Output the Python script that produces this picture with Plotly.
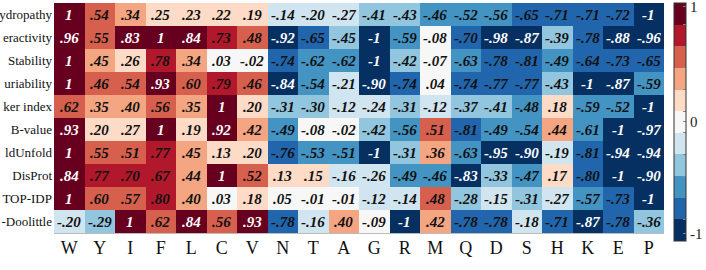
import plotly.graph_objects as go

columns = ["W", "Y", "I", "F", "L", "C", "V", "N", "T", "A", "G", "R", "M", "Q", "D", "S", "H", "K", "E", "P"]
# row labels as visible in the reference (cropped at the left edge there)
rows = ["ydropathy", "eractivity", "Stability", "uriability", "ker index",
        "B-value", "ldUnfold", "DisProt", "TOP-IDP", "-Doolittle"]

hydropathy = [1, .54, .34, .25, .23, .22, .19, -.14, -.20, -.27, -.41, -.43, -.46, -.52, -.56, -.65, -.71, -.71, -.72, -1]
interactivity = [.96, .55, .83, 1, .84, .73, .48, -.92, -.65, -.45, -1, -.59, -.08, -.70, -.98, -.87, -.39, -.78, -.88, -.96]
stability = [1, .45, .26, .78, .34, .03, -.02, -.74, -.62, -.62, -1, -.42, -.07, -.63, -.78, -.81, -.49, -.64, -.73, -.65]
curiability = [1, .46, .54, .93, .60, .79, .46, -.84, -.54, -.21, -.90, -.74, .04, -.74, -.77, -.77, -.43, -1, -.87, -.59]
marker_index = [.62, .35, .40, .56, .35, 1, .20, -.31, -.30, -.12, -.24, -.31, -.12, -.37, -.41, -.48, .18, -.59, -.52, -1]
b_value = [.93, .20, .27, 1, .19, .92, .42, -.49, -.08, -.02, -.42, -.56, .51, -.81, -.49, -.54, .44, -.61, -1, -.97]
foldunfold = [1, .55, .51, .77, .45, .13, .20, -.76, -.53, -.51, -1, -.31, .36, -.63, -.95, -.90, -.19, -.81, -.94, -.94]
disprot = [.84, .77, .70, .67, .44, 1, .52, .13, .15, -.16, -.26, -.49, -.46, -.83, -.33, -.47, .17, -.80, -1, -.90]
top_idp = [1, .60, .57, .80, .40, .03, .18, .05, -.01, -.01, -.12, -.14, .48, -.28, -.15, -.31, -.27, -.57, -.73, -1]
doolittle = [-.20, -.29, 1, .62, .84, .56, .93, -.78, -.16, .40, -.09, -1, .42, -.78, -.78, -.18, -.71, -.87, -.78, -.36]

z = [hydropathy, interactivity, stability, curiability, marker_index,
     b_value, foldunfold, disprot, top_idp, doolittle]

palette = ["#053061", "#2166ac", "#4393c3", "#92c5de", "#d1e5f0", "#f7f7f7",
           "#fddbc7", "#f4a582", "#d6604d", "#b2182b", "#67001f"]
n = len(palette)
colorscale = []
for i, c in enumerate(palette):
    colorscale.append([i / n, c])
    colorscale.append([(i + 1) / n, c])

FONT = "Times New Roman, Liberation Serif, serif"


def fmt(v):
    if abs(v) >= 0.995:
        return "1" if v > 0 else "-1"
    s = f"{abs(v):.2f}".lstrip("0")
    return ("-" if v < 0 else "") + s


# colorbar: labelled ticks at -1, 0, 1 plus unlabelled marks on the bin boundaries
cb_label_vals = [-0.94, 0, 0.97]
cb_label_text = ["-1", "0", "1"]
cb_bounds = [-1 + 2 * k / n for k in range(1, n)]
cb_vals = cb_label_vals + cb_bounds
cb_text = cb_label_text + [""] * len(cb_bounds)

fig = go.Figure(go.Heatmap(
    z=z, x=columns, y=rows,
    zmin=-1, zmax=1,
    colorscale=colorscale,
    xgap=0, ygap=0,
    hoverinfo="skip",
    colorbar=dict(
        thickness=12, lenmode="pixels", len=238,
        x=1.017, xanchor="left", xref="paper",
        y=0.483, yanchor="middle", ypad=0, xpad=0,
        outlinewidth=1, outlinecolor="#333",
        tickmode="array", tickvals=cb_vals, ticktext=cb_text,
        ticks="inside", ticklen=3, tickcolor="#888", tickwidth=1,
        ticklabeloverflow="allow",
        tickfont=dict(family=FONT, size=15, color="#222"),
    ),
))

annotations = []
for r, row in zip(rows, z):
    for c, v in zip(columns, row):
        annotations.append(dict(
            x=c, y=r, xref="x", yref="y", text=fmt(v), showarrow=False,
            font=dict(family=FONT, size=15, style="italic", weight="bold",
                      color="white" if abs(v) > 9 / 11 else "#111"),
        ))

fig.update_layout(
    width=706, height=270,
    margin=dict(l=54, r=42, t=3, b=36.5, autoexpand=False),
    paper_bgcolor="white", plot_bgcolor="white",
    annotations=annotations,
    font=dict(family=FONT, color="#111"),
)
fig.update_xaxes(tickfont=dict(size=18, family=FONT), ticks="", showgrid=False, automargin=False,
                 showline=True, linecolor="#bbb", linewidth=1, ticklabelstandoff=-2)
fig.update_yaxes(autorange="reversed", tickfont=dict(size=13, family=FONT), automargin=False,
                 ticks="", showgrid=False, ticklabelstandoff=1)

fig.write_html("out.html")
